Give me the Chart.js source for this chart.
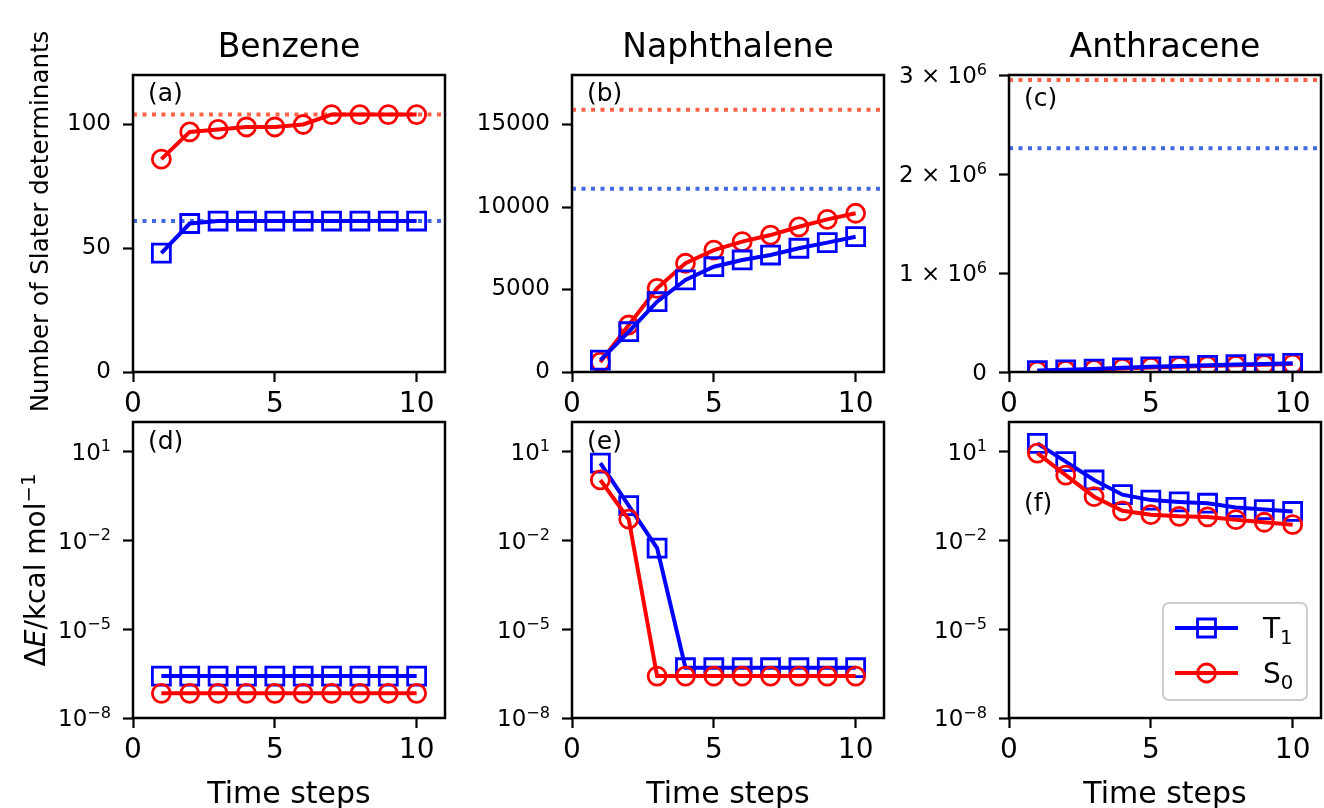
<!DOCTYPE html>
<html>
<head>
<meta charset="utf-8">
<script src="https://cdn.jsdelivr.net/npm/chart.js@4.4.0/dist/chart.umd.min.js"></script>
<style>
  body { margin: 0; background: #ffffff; }
  #fig { position: relative; width: 1324px; height: 808px; overflow: hidden; }
  #fig canvas { position: absolute; left: 0; top: 0; }
</style>
</head>
<body>
<div id="fig">
  <canvas id="benzeneDets" width="1364" height="808"></canvas>
  <canvas id="naphthaleneDets" width="1364" height="808"></canvas>
  <canvas id="anthraceneDets" width="1364" height="808"></canvas>
  <canvas id="benzeneErr" width="1364" height="808"></canvas>
  <canvas id="naphthaleneErr" width="1364" height="808"></canvas>
  <canvas id="anthraceneErr" width="1364" height="808"></canvas>
</div>
<script>
const steps = [1, 2, 3, 4, 5, 6, 7, 8, 9, 10];
const xTicks = [0, 5, 10];

// Number of Slater determinants per time step
const benzeneT1Dets = [48, 60, 61, 61, 61, 61, 61, 61, 61, 61];
const benzeneS0Dets = [86, 97, 98, 99, 99, 100, 104, 104, 104, 104];
const naphthaleneT1Dets = [720, 2440, 4260, 5580, 6380, 6790, 7090, 7500, 7840, 8200];
const naphthaleneS0Dets = [600, 2850, 5070, 6590, 7390, 7900, 8300, 8800, 9250, 9620];
const anthraceneT1Dets = [15000, 22000, 30000, 42000, 52000, 60000, 68000, 75000, 81000, 88000];
const anthraceneS0Dets = [10000, 17000, 25000, 36000, 46000, 54000, 61000, 68000, 74000, 80000];

// Full determinant space (dotted reference lines)
const benzeneFull = { T1: 61, S0: 104 };
const naphthaleneFull = { T1: 11100, S0: 15900 };
const anthraceneFull = { T1: 2260000, S0: 2950000 };

// Energy error, kcal/mol
const benzeneT1Err = [2.6e-7, 2.6e-7, 2.6e-7, 2.6e-7, 2.6e-7, 2.6e-7, 2.6e-7, 2.6e-7, 2.6e-7, 2.6e-7];
const benzeneS0Err = [6.8e-8, 6.8e-8, 6.8e-8, 6.8e-8, 6.8e-8, 6.8e-8, 6.8e-8, 6.8e-8, 6.8e-8, 6.8e-8];
const naphthaleneT1Err = [4.1, 0.15, 0.0055, 5e-7, 5e-7, 5e-7, 5e-7, 5e-7, 5e-7, 5e-7];
const naphthaleneS0Err = [1.1, 0.052, 2.6e-7, 2.6e-7, 2.6e-7, 2.6e-7, 2.6e-7, 2.6e-7, 2.6e-7, 2.6e-7];
const anthraceneT1Err = [19, 4.6, 1.1, 0.35, 0.23, 0.2, 0.18, 0.13, 0.11, 0.095];
const anthraceneS0Err = [8.9, 1.6, 0.3, 0.1, 0.074, 0.065, 0.062, 0.05, 0.041, 0.034];

const benzeneDetTicks = [0, 50, 100];
const naphthaleneDetTicks = [0, 5000, 10000, 15000];
const anthraceneDetTicks = [0, 1e6, 2e6, 3e6];
const errTicks = [1e-8, 1e-5, 1e-2, 1e1];

const W = 1364, H = 808;
const Y_AXIS_W = 100, X_AXIS_H = 60;
const TICK_LEN = 10, Y_TICK_PAD = 12, Y_TICK_SIZE = 23;
const FONT = '"DejaVu Sans"';
const BLUE = '#0000ff', RED = '#ff0000';

Chart.defaults.font.family = FONT;
Chart.defaults.color = '#000';

// tick label pieces: base text plus an optional raised exponent
const powerLabel = v => ({ base: '10', exp: String(Math.round(Math.log10(v))).replace('-', '−') });
const millionLabel = v => v === 0 ? { base: '0', exp: '' } : { base: `${Math.round(v / 1e6)} × 10`, exp: '6' };

function series(label, values, color, style, order) {
  return {
    label,
    data: steps.map((x, i) => ({ x, y: values[i] })),
    order,
    borderColor: color,
    borderWidth: 4,
    pointStyle: style,
    pointRadius: style === 'rect' ? 12.7 : 9,
    pointBorderWidth: 2.8,
    pointBorderColor: color,
    pointBackgroundColor: 'rgba(0,0,0,0)',
    tension: 0,
    clip: 0
  };
}

// horizontal dotted line spanning the whole x range
function fullSpace(value, color) {
  return {
    data: [{ x: 0, y: value }, { x: 11, y: value }],
    order: 5,
    borderColor: color,
    borderWidth: 4,
    borderDash: [4, 5.5],
    pointRadius: 0,
    clip: 0
  };
}

const tickGrid = { drawOnChartArea: false, drawTicks: true, tickLength: TICK_LEN, tickWidth: 2.2, tickColor: '#000' };

function xScale() {
  return {
    type: 'linear', min: 0, max: 11,
    afterBuildTicks: s => { s.ticks = xTicks.map(value => ({ value })); },
    afterFit: s => { s.height = X_AXIS_H; s.paddingLeft = 0; s.paddingRight = 0; },
    grid: tickGrid,
    border: { display: false },
    ticks: { font: { size: 28 }, padding: 6, maxRotation: 0, autoSkip: false, callback: v => String(v) }
  };
}

function yScale(type, min, max, ticks, showLabels) {
  return {
    type, min, max,
    afterBuildTicks: s => { s.ticks = ticks.map(value => ({ value })); },
    afterFit: s => { s.width = Y_AXIS_W; s.paddingTop = 0; s.paddingBottom = 0; },
    grid: tickGrid,
    border: { display: false },
    ticks: {
      display: showLabels, font: { size: Y_TICK_SIZE }, padding: Y_TICK_PAD, autoSkip: false,
      callback: v => String(v)
    }
  };
}

const axesFrame = {
  id: 'axesFrame',
  afterDraw(chart) {
    const { ctx, chartArea: a } = chart;
    ctx.save();
    ctx.strokeStyle = '#000';
    ctx.lineWidth = 2.5;
    ctx.strokeRect(a.left, a.top, a.right - a.left, a.bottom - a.top);
    ctx.restore();
  }
};

// y tick labels with a superscript exponent, placed at the scale's tick pixels
function exponentTicks(format) {
  return {
    id: 'exponentTicks',
    afterDraw(chart) {
      const { ctx } = chart;
      const s = chart.scales.y;
      const size = Y_TICK_SIZE, supSize = size * 0.7;
      const right = s.right - TICK_LEN - Y_TICK_PAD;
      ctx.save();
      ctx.fillStyle = '#000';
      ctx.textBaseline = 'alphabetic';
      ctx.textAlign = 'left';
      s.ticks.forEach(t => {
        const { base, exp } = format(t.value);
        const y = s.getPixelForValue(t.value) + size * 0.364;
        ctx.font = `${supSize}px ${FONT}`;
        const ew = exp ? ctx.measureText(exp).width : 0;
        ctx.font = `${size}px ${FONT}`;
        const bw = ctx.measureText(base).width;
        ctx.fillText(base, right - ew - bw, y);
        if (exp) {
          ctx.font = `${supSize}px ${FONT}`;
          ctx.fillText(exp, right - ew, y - size * 0.37);
        }
      });
      ctx.restore();
    }
  };
}

// titles, panel tags and axis labels; a text may be a list of runs (italic / superscript)
function textLayer(items) {
  return {
    id: 'textLayer',
    afterDraw(chart) {
      const { ctx, chartArea: a } = chart;
      items.forEach(it => {
        const runs = typeof it.text === 'string' ? [{ text: it.text }] : it.text;
        const fontOf = r => `${r.italic ? 'italic ' : ''}${r.sup ? it.size * 0.7 : it.size}px ${FONT}`;
        ctx.save();
        ctx.translate(it.x(a), it.y(a));
        if (it.rotate) ctx.rotate(it.rotate);
        ctx.fillStyle = '#000';
        ctx.textBaseline = 'alphabetic';
        ctx.textAlign = 'left';
        const widths = runs.map(r => { ctx.font = fontOf(r); return ctx.measureText(r.text).width; });
        const total = widths.reduce((s, w) => s + w, 0);
        let cx = it.align === 'center' ? -total / 2 : 0;
        runs.forEach((r, i) => {
          ctx.font = fontOf(r);
          ctx.fillText(r.text, cx, r.sup ? -it.size * 0.37 : 0);
          cx += widths[i];
        });
        ctx.restore();
      });
    }
  };
}

// boxed legend in the lower right corner of the plot area
const SUB = { '₀': '0', '₁': '1' };
const cornerLegend = {
  id: 'cornerLegend',
  afterDraw(chart) {
    const { ctx, chartArea: a } = chart;
    const entries = chart.data.datasets.filter(d => d.label);
    const bw = 144, bh = 97, r = 6, size = 28;
    const bx = a.right - 14 - bw, by = a.bottom - 18 - bh;
    ctx.save();
    ctx.beginPath();
    ctx.moveTo(bx + r, by);
    ctx.arcTo(bx + bw, by, bx + bw, by + bh, r);
    ctx.arcTo(bx + bw, by + bh, bx, by + bh, r);
    ctx.arcTo(bx, by + bh, bx, by, r);
    ctx.arcTo(bx, by, bx + bw, by, r);
    ctx.closePath();
    ctx.fillStyle = 'rgba(255,255,255,0.8)';
    ctx.fill();
    ctx.strokeStyle = '#cccccc';
    ctx.lineWidth = 2;
    ctx.stroke();
    entries.forEach((d, i) => {
      const y = by + 25 + i * 45;
      ctx.strokeStyle = d.borderColor;
      ctx.lineWidth = d.borderWidth;
      ctx.beginPath();
      ctx.moveTo(bx + 12, y);
      ctx.lineTo(bx + 75, y);
      ctx.stroke();
      ctx.fillStyle = 'rgba(0,0,0,0)';
      ctx.lineWidth = d.pointBorderWidth;
      Chart.helpers.drawPoint(ctx, { pointStyle: d.pointStyle, radius: d.pointRadius, borderWidth: d.pointBorderWidth, rotation: 0 }, bx + 43.5, y);
      // letter with a lowered subscript digit
      const letter = d.label.slice(0, 1), sub = SUB[d.label.slice(1)] || '';
      const base = y + size * 0.364;
      ctx.fillStyle = '#000';
      ctx.textBaseline = 'alphabetic';
      ctx.font = `${size}px ${FONT}`;
      ctx.fillText(letter, bx + 100, base);
      const lw = ctx.measureText(letter).width;
      ctx.font = `${size * 0.7}px ${FONT}`;
      ctx.fillText(sub, bx + 100 + lw, base + size * 0.2);
    });
    ctx.restore();
  }
};

function panel(id, frame, datasets, x, y, texts, extra) {
  new Chart(document.getElementById(id), {
    type: 'line',
    data: { datasets },
    options: {
      responsive: false,
      animation: false,
      events: [],
      layout: {
        padding: {
          left: frame.left - Y_AXIS_W,
          top: frame.top,
          right: W - frame.right,
          bottom: H - frame.bottom - X_AXIS_H
        }
      },
      plugins: { legend: { display: false }, tooltip: { enabled: false } },
      scales: { x, y }
    },
    plugins: [axesFrame, textLayer(texts)].concat(extra || [])
  });
}

const midX = a => (a.left + a.right) / 2;
const midY = a => (a.top + a.bottom) / 2;
const title = t => ({ text: t, size: 33, align: 'center', x: midX, y: a => a.top - 18 });
const tag = (t, dy) => ({ text: t, size: 25, x: a => a.left + 15, y: a => a.top + dy });
const timeLabel = { text: 'Time steps', size: 30, align: 'center', x: midX, y: a => a.bottom + 85 };

const colL = { left: 133, right: 445 }, colM = { left: 572, right: 884 }, colR = { left: 1009, right: 1321 };
const rowTop = { top: 75, bottom: 372 }, rowBot = { top: 422, bottom: 718 };

// top row: determinant counts (T1 drawn over S0)
panel('benzeneDets', { ...colL, ...rowTop }, [
  series('T₁', benzeneT1Dets, BLUE, 'rect', 0),
  series('S₀', benzeneS0Dets, RED, 'circle', 1),
  fullSpace(benzeneFull.T1, '#4169e1'),
  fullSpace(benzeneFull.S0, '#ff6347')
], xScale(), yScale('linear', 0, 120, benzeneDetTicks, true), [
  title('Benzene'), tag('(a)', 26),
  { text: 'Number of Slater determinants', size: 24.5, align: 'center', rotate: -Math.PI / 2, x: a => a.left - 85, y: a => midY(a) - 2 }
]);

panel('naphthaleneDets', { ...colM, ...rowTop }, [
  series('T₁', naphthaleneT1Dets, BLUE, 'rect', 0),
  series('S₀', naphthaleneS0Dets, RED, 'circle', 1),
  fullSpace(naphthaleneFull.T1, '#4169e1'),
  fullSpace(naphthaleneFull.S0, '#ff6347')
], xScale(), yScale('linear', 0, 18000, naphthaleneDetTicks, true), [
  title('Naphthalene'), tag('(b)', 26)
]);

panel('anthraceneDets', { ...colR, ...rowTop }, [
  series('T₁', anthraceneT1Dets, BLUE, 'rect', 0),
  series('S₀', anthraceneS0Dets, RED, 'circle', 1),
  fullSpace(anthraceneFull.T1, '#4169e1'),
  fullSpace(anthraceneFull.S0, '#ff6347')
], xScale(), yScale('linear', 0, 3e6, anthraceneDetTicks, false), [
  title('Anthracene'), tag('(c)', 31)
], [exponentTicks(millionLabel)]);

// bottom row: energy error on log axes (S0 drawn over T1)
panel('benzeneErr', { ...colL, ...rowBot }, [
  series('T₁', benzeneT1Err, BLUE, 'rect', 1),
  series('S₀', benzeneS0Err, RED, 'circle', 0)
], xScale(), yScale('logarithmic', 1e-8, 100, errTicks, false), [
  tag('(d)', 27), timeLabel,
  {
    text: [{ text: 'Δ' }, { text: 'E', italic: true }, { text: '/kcal mol' }, { text: '−1', sup: true }],
    size: 28, align: 'center', rotate: -Math.PI / 2, x: a => a.left - 88, y: midY
  }
], [exponentTicks(powerLabel)]);

panel('naphthaleneErr', { ...colM, ...rowBot }, [
  series('T₁', naphthaleneT1Err, BLUE, 'rect', 1),
  series('S₀', naphthaleneS0Err, RED, 'circle', 0)
], xScale(), yScale('logarithmic', 1e-8, 100, errTicks, false), [
  tag('(e)', 27), timeLabel
], [exponentTicks(powerLabel)]);

panel('anthraceneErr', { ...colR, ...rowBot }, [
  series('T₁', anthraceneT1Err, BLUE, 'rect', 1),
  series('S₀', anthraceneS0Err, RED, 'circle', 0)
], xScale(), yScale('logarithmic', 1e-8, 100, errTicks, false), [
  tag('(f)', 89), timeLabel
], [exponentTicks(powerLabel), cornerLegend]);
</script>
</body>
</html>
